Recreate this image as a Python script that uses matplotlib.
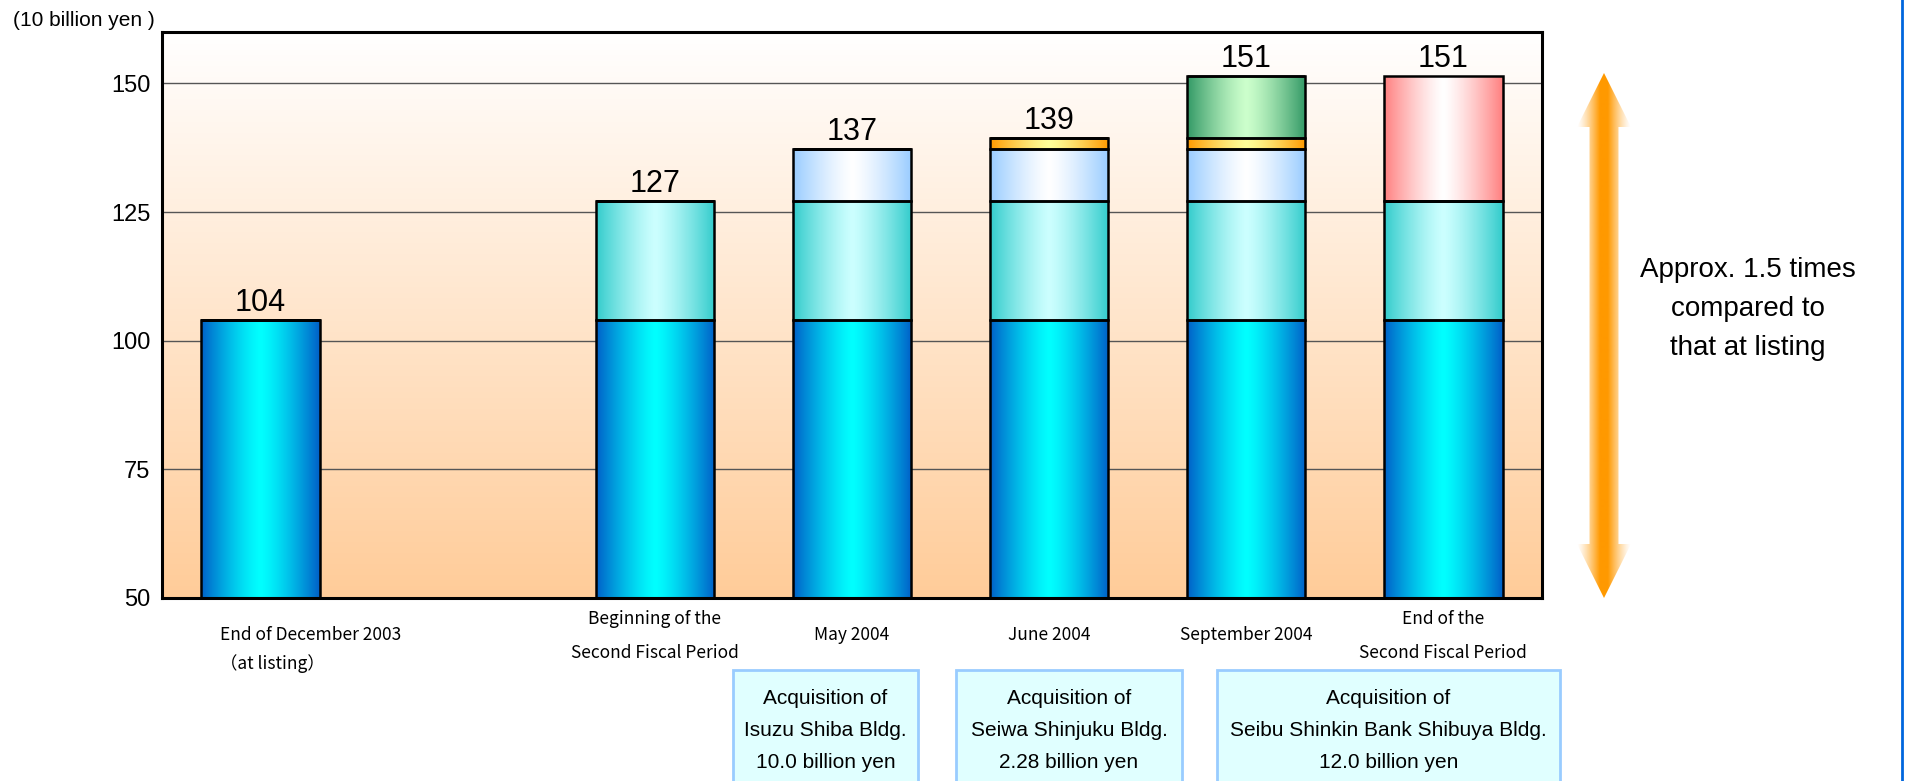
import numpy as np
import matplotlib.pyplot as plt
from matplotlib.colors import to_rgb
from matplotlib.patches import Polygon, Rectangle
from matplotlib.transforms import blended_transform_factory

plt.rcParams['font.family'] = ['Liberation Sans', 'DejaVu Sans']

# values in the chart's own unit
categories = [['End of December 2003', '\uff08at listing\uff09'],
              ['Beginning of the', 'Second Fiscal Period'],
              ['May 2004'], ['June 2004'], ['September 2004'],
              ['End of the', 'Second Fiscal Period']]
positions = [0, 2, 3, 4, 5, 6]
at_listing = [104.1, 104.1, 104.1, 104.1, 104.1, 104.1]
first_period = [0, 23.1, 23.1, 23.1, 23.1, 23.1]
isuzu_shiba = [0, 0, 10.0, 10.0, 10.0, 0]
seiwa_shinjuku = [0, 0, 0, 2.28, 2.28, 0]
seibu_shibuya = [0, 0, 0, 0, 12.0, 0]
acquired_total = [0, 0, 0, 0, 0, 24.28]
yticks = [50, 75, 100, 125, 150]

acquisitions = [['Acquisition of', 'Isuzu Shiba Bldg.', '10.0 billion yen'],
                ['Acquisition of', 'Seiwa Shinjuku Bldg.', '2.28 billion yen'],
                ['Acquisition of', 'Seibu Shinkin Bank Shibuya Bldg.', '12.0 billion yen']]

# (values, edge colour, centre colour)
layers = [(at_listing, '#0060C8', '#00FFFF'),
          (first_period, '#33CCCC', '#CCFFFF'),
          (isuzu_shiba, '#99CCFF', '#FFFFFF'),
          (seiwa_shinjuku, '#FF9900', '#FFFF99'),
          (seibu_shibuya, '#339966', '#CCFFCC'),
          (acquired_total, '#FF8080', '#FFFFFF')]

W, H = 1912, 781
fig = plt.figure(figsize=(W / 100, H / 100), dpi=100)
ax = fig.add_axes([162 / W, (H - 598) / H, (1542 - 162) / W, (598 - 32) / H])
ax.set_facecolor('none')


def strip(edge, center, n=200, p=1.3):
    t = np.abs(np.linspace(-1, 1, n)) ** p
    e, c = np.array(to_rgb(edge)), np.array(to_rgb(center))
    return (c + (e - c) * t[:, None])[None, :, :]


# background gradient
top_c, bot_c = np.array(to_rgb('#FFFFFF')), np.array(to_rgb('#FFCC99'))
s = np.linspace(0, 1, 256)[:, None]
bg = (top_c + (bot_c - top_c) * s)[:, None, :]
ax.imshow(bg, extent=[0, 1, 0, 1], transform=ax.transAxes, aspect='auto', zorder=0)

width = 0.6
bottoms = np.zeros(len(positions))
for vals, edge, center in layers:
    for x, b, v in zip(positions, bottoms, vals):
        if v <= 0:
            continue
        ax.imshow(strip(edge, center), extent=[x - width / 2, x + width / 2, b, b + v],
                  aspect='auto', zorder=2, interpolation='bilinear')
    ax.bar(positions, vals, width, bottom=bottoms, facecolor='none',
           edgecolor='black', linewidth=1.8, zorder=3)
    bottoms = bottoms + np.array(vals)

for x, total in zip(positions, bottoms):
    ax.annotate(f'{round(total)}', (x, total), xytext=(0, 6.5), textcoords='offset points',
                ha='center', va='baseline', fontsize=22)

ax.set_xlim(-0.5, 6.5)
ax.set_ylim(50, 160)
ax.set_yticks(yticks)
ax.set_xticks([])
ax.yaxis.grid(True, color='#555555', linewidth=1)
ax.set_axisbelow(True)
ax.tick_params(axis='y', length=0, pad=8.5, labelsize=17)
for sp in ax.spines.values():
    sp.set_linewidth(2.2)

fig.text(13 / W, 1 - 20 / H, '(10 billion yen )', ha='left', va='center', fontsize=15)

# overlay in pixel coordinates
ov = fig.add_axes([0, 0, 1, 1], facecolor='none')
ov.set_xlim(0, W)
ov.set_ylim(H, 0)
ov.axis('off')

cat_tf = blended_transform_factory(ax.transData, ov.transData)
jp = ['Noto Sans CJK JP', 'DejaVu Sans']
for x, lines in zip(positions, categories):
    if x == 0:
        for line, y in zip(lines, [635, 664]):
            ax.text(x - 0.205, y, line, transform=cat_tf, ha='left', va='center',
                    fontsize=12.5, family=jp)
    else:
        ys = [635] if len(lines) == 1 else [619, 653]
        for line, y in zip(lines, ys):
            ax.text(x, y, line, transform=cat_tf, ha='center', va='center',
                    fontsize=12.5, family=jp)

box_x = [(733, 918), (956, 1182), (1217, 1560)]
for (x0, x1), lines in zip(box_x, acquisitions):
    ov.add_patch(Rectangle((x0, 670), x1 - x0, 200, facecolor='#E0FFFF',
                           edgecolor='#99CCFF', linewidth=2, clip_on=False))
    for line, y in zip(lines, [698, 731, 762]):
        ov.text((x0 + x1) / 2, y, line, ha='center', va='center', fontsize=15)

# double arrow with soft sides
cx, top, bot, hb_t, hb_b, hw, sw = 1604, 73, 598, 127, 544, 27, 14.5
pts = [(cx, top), (cx + hw, hb_t), (cx + sw, hb_t), (cx + sw, hb_b), (cx + hw, hb_b),
       (cx, bot), (cx - hw, hb_b), (cx - sw, hb_b), (cx - sw, hb_t), (cx - hw, hb_t)]
poly = Polygon(pts, closed=True, facecolor='none', edgecolor='none')
ov.add_patch(poly)
dx = np.abs(np.linspace(-hw, hw, 200))
alpha = np.clip(1 - (dx - 4) / (hw - 4), 0, 1) ** 1.3
img = np.zeros((1, 200, 4))
img[..., :3] = to_rgb('#FF9900')
img[..., 3] = alpha
im = ov.imshow(img, extent=[cx - hw, cx + hw, bot, top], aspect='auto',
               interpolation='bilinear')
im.set_clip_path(poly)
ov.set_xlim(0, W)
ov.set_ylim(H, 0)

for line, y in zip(['Approx. 1.5 times', 'compared to', 'that at listing'], [270, 309, 348]):
    ov.text(1748, y, line, ha='center', va='center', fontsize=20)

ov.plot([1902, 1902], [0, H], color='#0066DD', linewidth=2)

fig.savefig('out.png', dpi=100)
